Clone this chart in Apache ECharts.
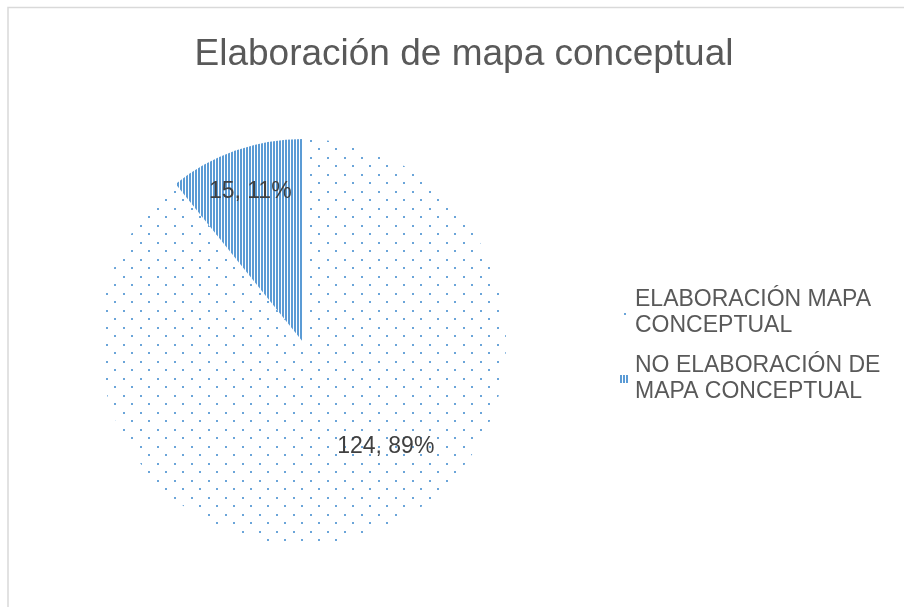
<!DOCTYPE html>
<html>
<head>
<meta charset="utf-8">
<script src="https://cdn.jsdelivr.net/npm/echarts@6/dist/echarts.min.js"></script>
<style>
  html, body { margin: 0; padding: 0; background: #fff; }
  #chart { width: 904px; height: 607px; }
</style>
</head>
<body>
<div id="chart"></div>
<script>
// data
var categories = ['ELABORACIÓN MAPA CONCEPTUAL', 'NO ELABORACIÓN DE MAPA CONCEPTUAL']
var legendLines = ['ELABORACIÓN MAPA\nCONCEPTUAL', 'NO ELABORACIÓN DE\nMAPA CONCEPTUAL']
var values = [124, 15]
var percents = ['89%', '11%']

// fill patterns (dots / vertical stripes)
function dotPattern() {
  var c = document.createElement('canvas')
  c.width = 17
  c.height = 17
  var ctx = c.getContext('2d')
  ctx.fillStyle = '#ffffff'
  ctx.fillRect(0, 0, 17, 17)
  ctx.fillStyle = 'rgba(91,155,213,0.9)'
  ctx.fillRect(4, 4, 2, 2)
  ctx.fillRect(12, 12, 2, 2)
  return c
}
function stripePattern() {
  var c = document.createElement('canvas')
  c.width = 3
  c.height = 4
  var ctx = c.getContext('2d')
  ctx.fillStyle = '#ffffff'
  ctx.fillRect(0, 0, 3, 4)
  ctx.fillStyle = '#5b9bd5'
  ctx.fillRect(0, 0, 2, 4)
  return c
}
var fills = [
  { image: dotPattern(), repeat: 'repeat' },
  { image: stripePattern(), repeat: 'repeat' }
]
// label shift from the default 'inside' spot (Excel best-fit placement)
var labelShift = [[48, 6], [-18, -52]]

var chart = echarts.init(document.getElementById('chart'))
chart.setOption({
  backgroundColor: '#ffffff',
  animation: false,
  title: {
    text: 'Elaboración de mapa conceptual',
    left: 459,
    top: 31,
    textAlign: 'center',
    textStyle: {
      fontFamily: 'Liberation Sans',
      fontSize: 37,
      fontWeight: 'normal',
      color: '#595959'
    }
  },
  graphic: [{
    type: 'rect',
    shape: { x: 8, y: 7.5, width: 1000, height: 1000 },
    style: { fill: 'none', stroke: '#d9d9d9', lineWidth: 1.5 },
    silent: true
  }],
  legend: {
    orient: 'vertical',
    left: 615,
    top: 282,
    itemWidth: 8,
    itemHeight: 8,
    itemGap: 14,
    icon: 'rect',
    data: categories,
    formatter: function (name) {
      return legendLines[categories.indexOf(name)]
    },
    textStyle: {
      fontFamily: 'Liberation Sans',
      fontSize: 23,
      lineHeight: 26,
      color: '#595959',
      padding: [0, 0, 0, 2]
    }
  },
  series: [{
    type: 'pie',
    center: [303, 342],
    radius: 203,
    startAngle: 90,
    clockwise: true,
    data: categories.map(function (name, i) {
      return {
        name: name,
        value: values[i],
        itemStyle: { color: fills[i] }
      }
    }),
    itemStyle: { borderWidth: 0 },
    emphasis: { disabled: true },
    label: {
      show: true,
      position: 'inside',
      formatter: function (p) {
        return p.value + ', ' + percents[p.dataIndex]
      },
      fontFamily: 'Liberation Sans',
      fontSize: 23,
      color: '#404040'
    },
    labelLine: { show: false },
    labelLayout: function (params) {
      var s = labelShift[params.dataIndex]
      return { dx: s[0], dy: s[1] }
    }
  }]
})
</script>
</body>
</html>
